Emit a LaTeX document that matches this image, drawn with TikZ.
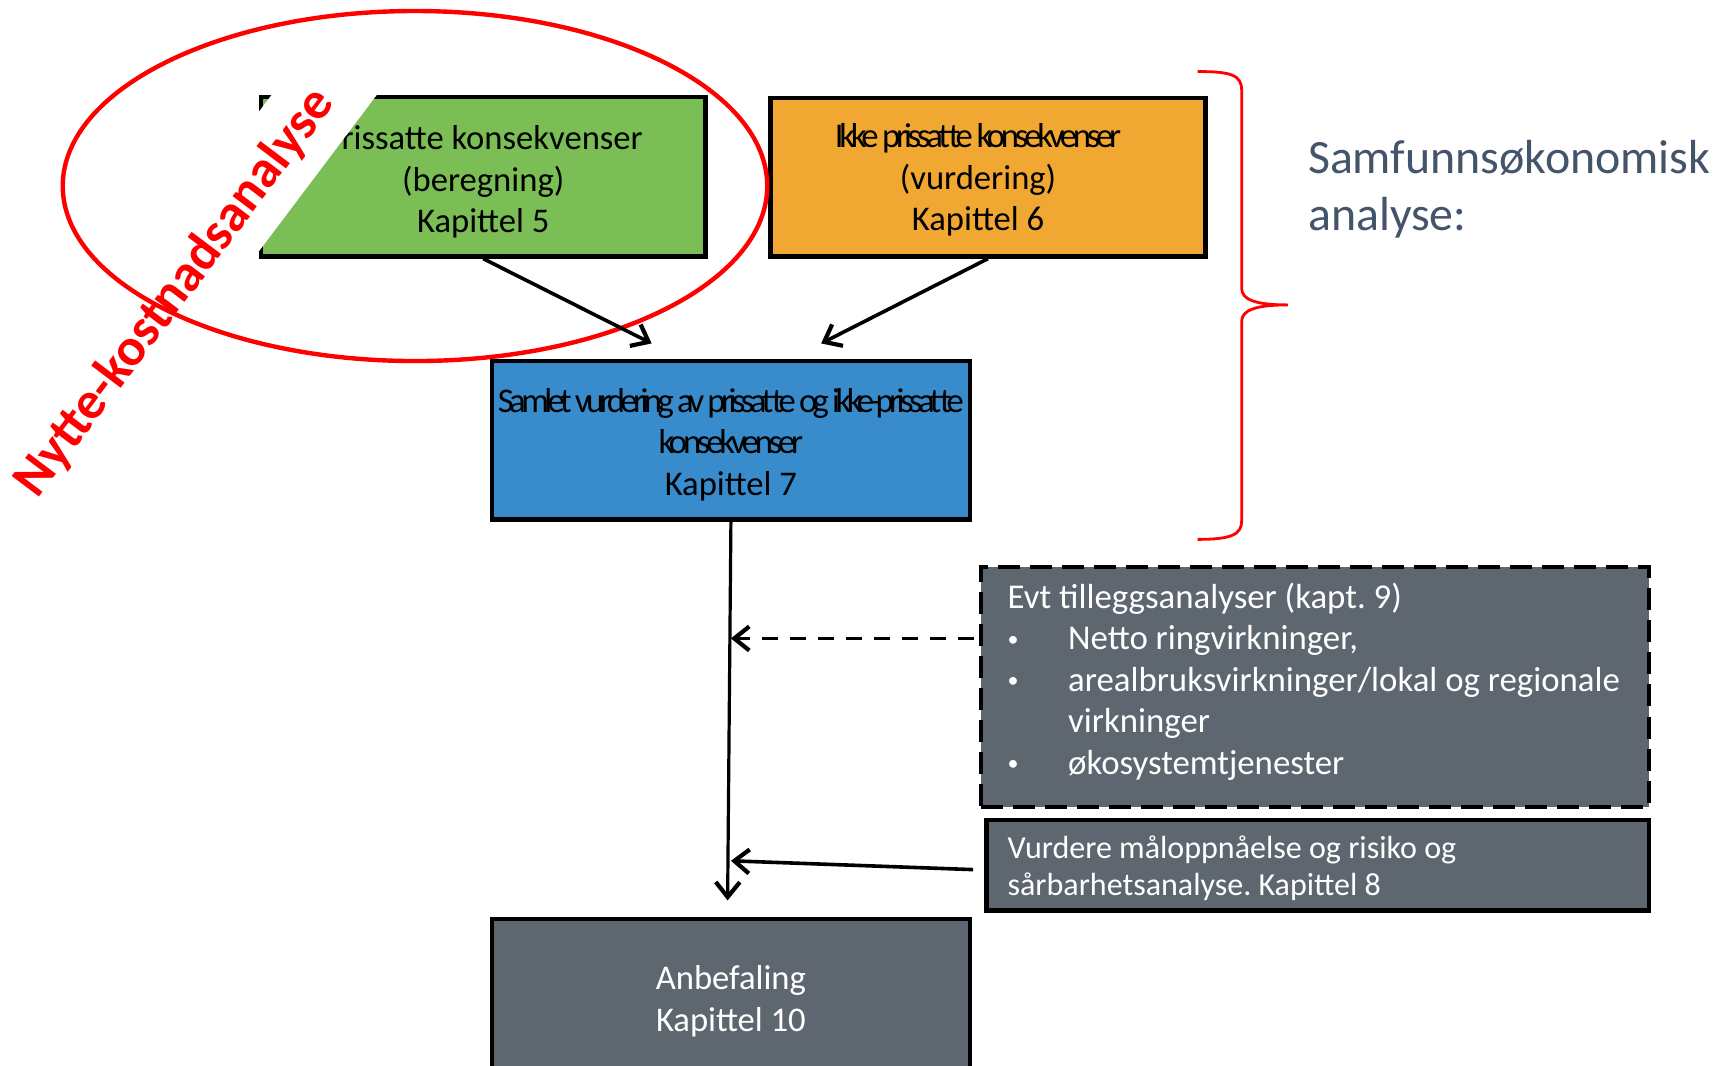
\documentclass[tikz,border=0pt]{standalone}
\usepackage{fontspec}
\setmainfont{Carlito}
\usetikzlibrary{arrows.meta}
\definecolor{boxgreen}{HTML}{7BBE55}
\definecolor{boxorange}{HTML}{F0A832}
\definecolor{boxblue}{HTML}{388CCC}
\definecolor{boxgray}{HTML}{5E6770}
\definecolor{slate}{HTML}{44546A}
\newcommand\tightx[1]{{\addfontfeature{LetterSpace=-12.2}#1}}
\newcommand\tighterx[1]{{\addfontfeature{LetterSpace=-13.2}#1}}
\newcommand\bul{\makebox[30.25pt][l]{\raisebox{1.6pt}{\fontsize{11}{11}\selectfont •}}}
\begin{document}
\frenchspacing
\begin{tikzpicture}[x=0.55pt,y=-0.55pt,
  boxbase/.style={draw=black, line width=2.2pt, rectangle, inner sep=0pt},
  lbl/.style={align=center, inner sep=0pt, font=\fontsize{17.3}{20.9}\selectfont},
  graytext/.style={text=white, align=left, anchor=west, inner sep=0pt},
  tipbarb/.style={-{Straight Barb[length=7.5pt,width=12pt,line width=2.1pt]}},
  arr/.style={line width=1.8pt, tipbarb},
]
\useasboundingbox (0,0) rectangle (1568,968);
\fill[white] (0,0) rectangle (1568,968);

% boxes
\node[boxbase, fill=boxgreen, minimum width=222.2pt, minimum height=79.75pt] (green) at (439,160.5) {};
\node[boxbase, fill=boxorange, minimum width=217.25pt, minimum height=79.2pt] (orange) at (897.5,161) {};
\node[boxbase, fill=boxblue, minimum width=238.7pt, minimum height=79.2pt] (blue) at (664,400) {};
\node[boxbase, fill=boxgray, dash pattern=on 11pt off 5pt, minimum width=333.85pt, minimum height=119.9pt] (evt) at (1194.5,624) {};
\node[boxbase, fill=boxgray, minimum width=331.1pt, minimum height=45.1pt] (vur) at (1197,786) {};
\node[boxbase, fill=boxgray, minimum width=238.7pt, minimum height=78.65pt] (anb) at (664,906.5) {};

% box labels
\node[lbl] (greenlbl) at ([yshift=-2.6pt]green.center)
  {\hphantom{P}rissatte konsekvenser\\(beregning)\\Kapittel 5};
\node[lbl] (orangelbl) at ([xshift=-4.95pt,yshift=-1.3pt]orange.center)
  {\tightx{Ikke prissatte konsekvenser}\\(vurdering)\\Kapittel 6};
\node[lbl] (bluelbl) at ([yshift=-2.2pt]blue.center)
  {\tighterx{Samlet vurdering av prissatte og ikke-prissatte}\\\tightx{konsekvenser}\\Kapittel 7};
\node[lbl, text=white] (anblbl) at ([yshift=-1.65pt]anb.center)
  {Anbefaling\\Kapittel 10};

\node[graytext, font=\fontsize{17.4}{20.75}\selectfont] (evttext) at (915,619)
  {Evt tilleggsanalyser (kapt. 9)\\
   \bul Netto ringvirkninger,\\
   \bul arealbruksvirkninger/lokal og regionale\\
   \hspace*{30.25pt}virkninger\\
   \bul økosystemtjenester};
\node[graytext, font=\fontsize{16}{18.7}\selectfont] (vurtext) at (915,789)
  {Vurdere måloppnåelse og risiko og\\sårbarhetsanalyse. Kapittel 8};

% rotated label with white band
\node[rotate=53, fill=white, text=red, font=\fontsize{26.3}{30}\selectfont\bfseries,
      minimum height=42pt, minimum width=308pt, inner sep=0pt] (nka) at (159,266) {Nytte-kostnadsanalyse};

% ellipse
\draw[red, line width=2.2pt] (377,169) ellipse [x radius=320, y radius=159];

% connectors
\coordinate (gtip) at (592,312);
\coordinate (otip) at (746,312);
\coordinate (vtip) at (661,818);
\coordinate (dstart) at (885,580);
\coordinate (dtip) at (664,580);
\coordinate (vstart) at (884,790);
\coordinate (vend) at (664,782);
\draw[arr] (green.south) -- (gtip);
\draw[arr] (orange.south) -- (otip);
\draw[line width=1.6pt, tipbarb] (blue.south) -- (vtip);
\draw[arr, line width=1.6pt, dash pattern=on 8pt off 6pt] (dstart) -- (dtip);
\draw[arr] (vstart) -- (vend);

% brace
\draw[red, line width=1.4pt] (1088,65) .. controls (1118,65) and (1128,68) .. (1128,82)
  -- (1128,262) .. controls (1128,272) and (1140,277) .. (1170,277)
  .. controls (1140,277) and (1128,282) .. (1128,292)
  -- (1128,473) .. controls (1128,486) and (1118,490) .. (1088,490);

\node[anchor=west, text=slate, align=left, inner sep=0pt, font=\fontsize{23.9}{28.6}\selectfont] (samf) at (1188,172)
  {Samfunnsøkonomisk\\analyse:};
\end{tikzpicture}
\end{document}
